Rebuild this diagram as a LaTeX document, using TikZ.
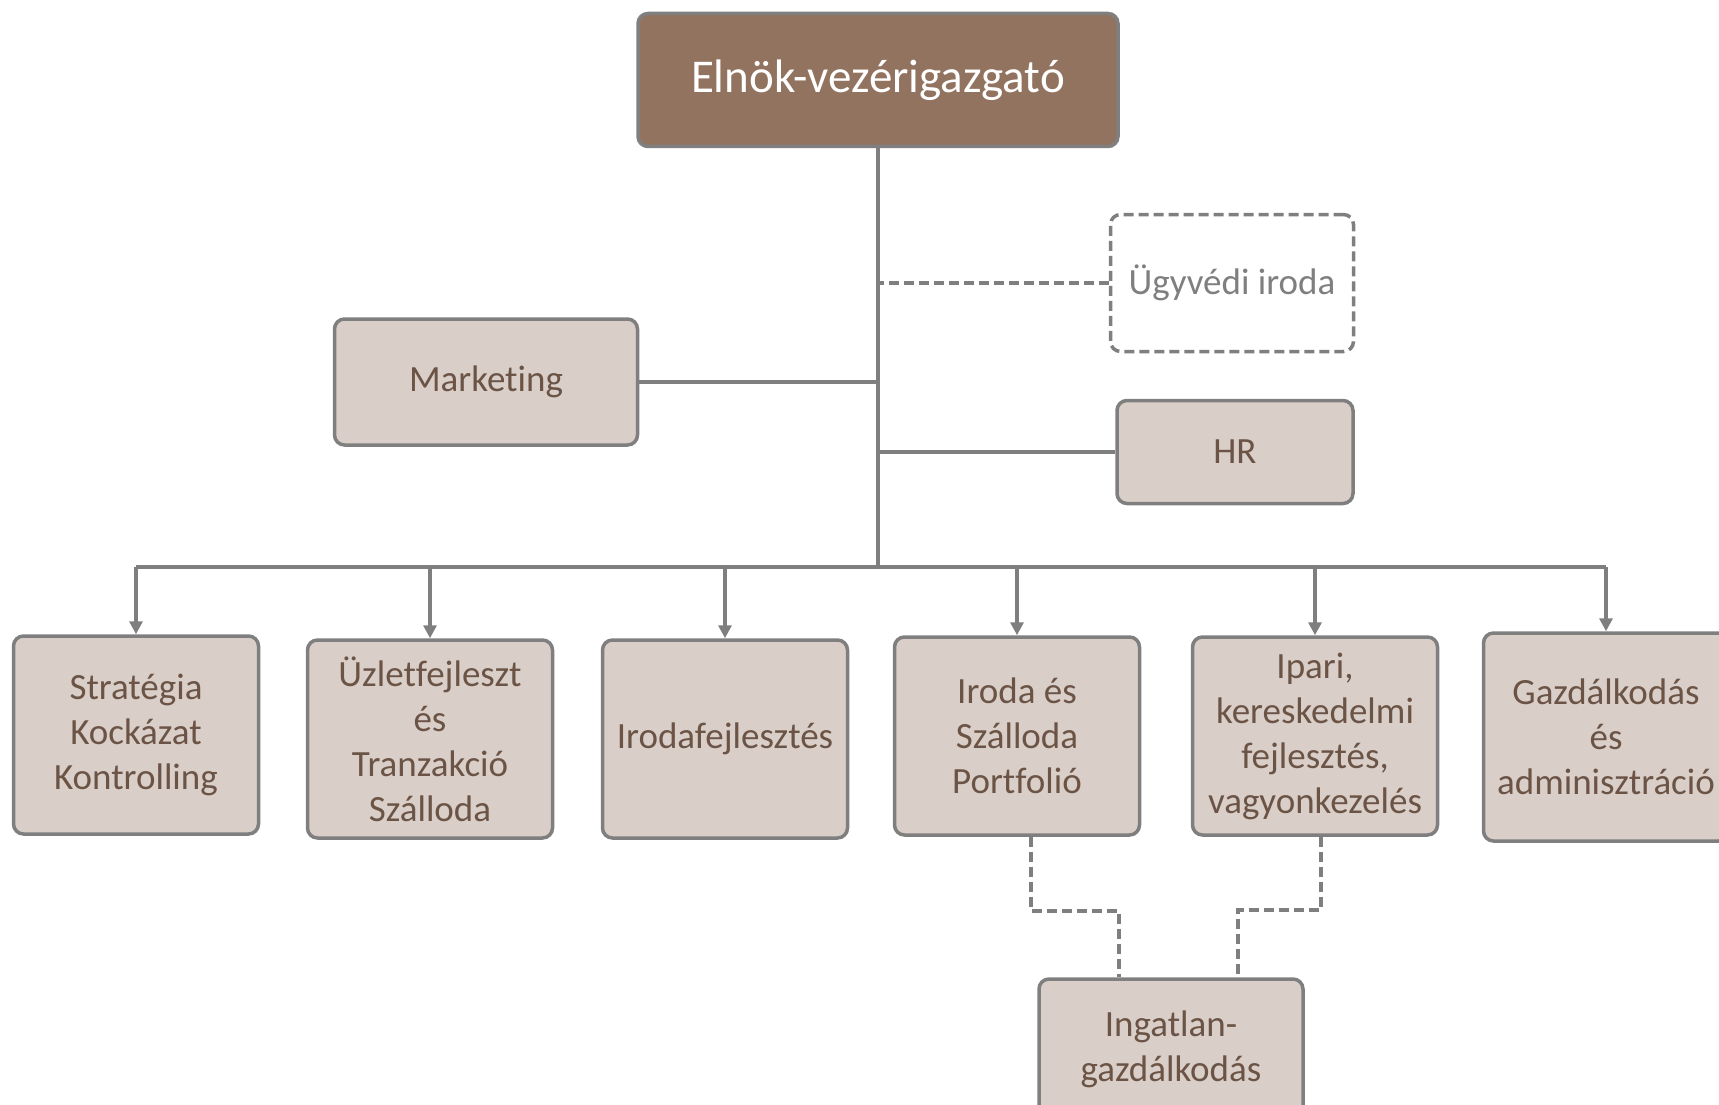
\documentclass[tikz,border=0pt]{standalone}
\usepackage{fontspec}
\setmainfont{Carlito}[Ligatures=NoCommon]
\usetikzlibrary{positioning, arrows.meta}

\definecolor{boxfill}{HTML}{D9CFC8}
\definecolor{topfill}{HTML}{917360}
\definecolor{boxtext}{HTML}{6B5446}
\definecolor{linegrey}{HTML}{7F7F7F}

\tikzset{
  unit/.style={draw=linegrey, line width=3.5pt, rounded corners=10pt, fill=boxfill,
    text=boxtext, align=center, inner sep=0pt, font=\fontsize{37}{45}\selectfont,
    minimum width=245pt, minimum height=198pt},
  link/.style={draw=linegrey, line width=3.5pt},
  dlink/.style={link, dash pattern=on 10pt off 5pt},
}

\begin{document}
\begin{tikzpicture}[>={Triangle[length=13pt,width=13pt]}, x=1pt, y=-1pt]
    \clip (0,0) rectangle (1719,1105);

    \node[unit, fill=topfill, text=white, font=\fontsize{47}{56}\selectfont, minimum width=480pt, minimum height=133pt] (ceo) at (878,80) {Elnök-vezérigazgató};
    \node[unit, minimum width=303pt, minimum height=126pt] (marketing) at (486,382) {Marketing};
    \node[unit, fill=white, text=linegrey, dash pattern=on 10pt off 5pt, minimum width=243pt, minimum height=137pt] (lawfirm) at (1232,283) {Ügyvédi iroda};
    \node[unit, minimum width=236pt, minimum height=103pt] (hr) at (1235,452) {HR};
    \coordinate (bus) at (878,567);

    \node[unit] (strategy)   at (136,735)  {Stratégia\\Kockázat\\Kontrolling};
    \node[unit] (bizdev)     at (430,739)  {Üzletfejleszt\\és\\Tranzakció\\Szálloda};
    \node[unit] (officedev)  at (725,739)  {Irodafejlesztés};
    \node[unit] (portfolio)  at (1017,736) {Iroda és\\Szálloda\\Portfolió};
    \node[unit] (industrial) at (1315,736) {Ipari,\\kereskedelmi\\fejlesztés,\\vagyonkezelés};
    \node[unit, minimum height=208pt] (admin) at (1606,737) {Gazdálkodás\\és\\adminisztráció};
    \node[unit, minimum width=264pt, minimum height=140pt] (realestate) at (1171,1049) {Ingatlan-\\gazdálkodás};

    % trunk and side units
    \draw[link] (ceo.south) -- (bus);
    \draw[link] (marketing.east) -- (marketing.east -| bus);
    \draw[link] (hr.west) -- (hr.west -| bus);
    \draw[dlink] (lawfirm.west) -- (lawfirm.west -| bus);

    % bus to the divisions
    \draw[link] (strategy.north |- bus) -- (admin.north |- bus);
    \foreach \unitname in {strategy, bizdev, officedev, portfolio, industrial, admin}
        \draw[link, ->] (\unitname.north |- bus) -- (\unitname.north);

    % dashed ties to real estate
    \draw[dlink] ([xshift=14pt]portfolio.south) -- ++(0,74) -| ([xshift=-52pt]realestate.north);
    \draw[dlink] ([xshift=6pt]industrial.south) -- ++(0,73) -| ([xshift=67pt]realestate.north);
\end{tikzpicture}
\end{document}
